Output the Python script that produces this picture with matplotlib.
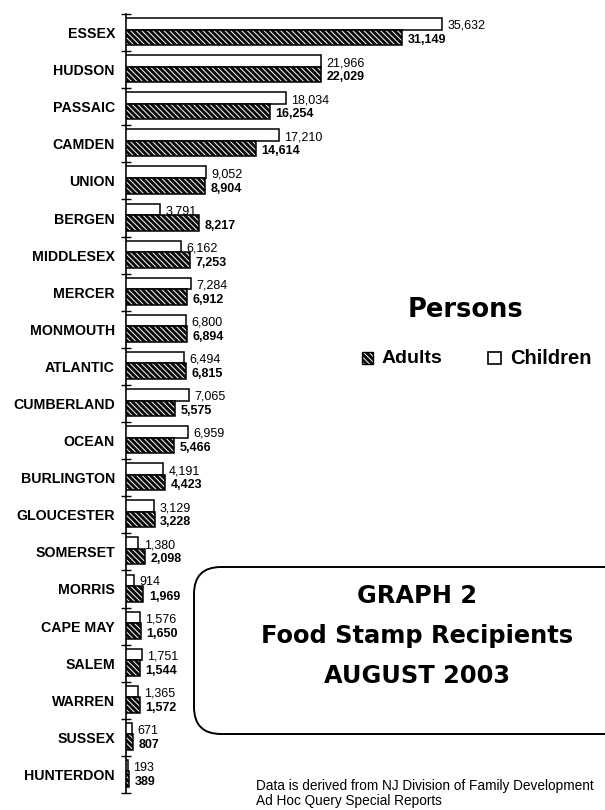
import matplotlib
matplotlib.use('Agg')
import matplotlib.pyplot as plt
from matplotlib.patches import FancyBboxPatch, Rectangle
import numpy as np

counties = ["ESSEX", "HUDSON", "PASSAIC", "CAMDEN", "UNION", "BERGEN", "MIDDLESEX",
            "MERCER", "MONMOUTH", "ATLANTIC", "CUMBERLAND", "OCEAN", "BURLINGTON",
            "GLOUCESTER", "SOMERSET", "MORRIS", "CAPE MAY", "SALEM", "WARREN",
            "SUSSEX", "HUNTERDON"]
children = [35632, 21966, 18034, 17210, 9052, 3791, 6162, 7284, 6800, 6494, 7065,
            6959, 4191, 3129, 1380, 914, 1576, 1751, 1365, 671, 193]
adults = [31149, 22029, 16254, 14614, 8904, 8217, 7253, 6912, 6894, 6815, 5575,
          5466, 4423, 3228, 2098, 1969, 1650, 1544, 1572, 807, 389]

title_lines = ["GRAPH 2", "Food Stamp Recipients", "AUGUST 2003"]
legend_title = "Persons"
legend_labels = ["Adults", "Children"]
source_lines = ["Data is derived from NJ Division of Family Development",
                "Ad Hoc Query Special Reports"]

plt.rcParams['hatch.linewidth'] = 0.7
HATCH = '\\' * 6
SANS = ['Liberation Sans', 'DejaVu Sans']
HEAVY = ['DejaVu Sans']

W, H = 605, 810
fig = plt.figure(figsize=(W / 100, H / 100), dpi=100)
fig.patch.set_facecolor('white')

# overlay axes in pixel coordinates (for title box, legend, source note)
ov = fig.add_axes([0, 0, 1, 1])
ov.set_xlim(0, W)
ov.set_ylim(H, 0)
ov.axis('off')
ov.patch.set_alpha(0)

# main bar axes
ax = fig.add_axes([126 / W, (H - 793) / H, (W - 126) / W, (793 - 14) / H])
ax.patch.set_alpha(0)
n = len(counties)
y = np.arange(n)
ch_off, ch_h = -0.235, 0.31
ad_off, ad_h = 0.13, 0.42

ax.barh(y + ch_off, children, height=ch_h, color='white', edgecolor='black',
        linewidth=1.1, zorder=3)
ax.barh(y + ad_off, adults, height=ad_h, color='#0a0a0a', edgecolor='white',
        linewidth=0, hatch=HATCH, zorder=3)
ax.barh(y + ad_off, adults, height=ad_h, fill=False, edgecolor='black',
        linewidth=1.1, zorder=4)

ax.set_xlim(0, 54014)
ax.set_ylim(n - 0.5, -0.5)

for i in range(n):
    ax.annotate(f"{children[i]:,}", xy=(children[i], y[i] + ch_off), xytext=(4, -1.5),
                textcoords='offset points', ha='left', va='center',
                fontsize=9, family=SANS, color='black')
    ax.annotate(f"{adults[i]:,}", xy=(adults[i], y[i] + ad_off), xytext=(4, -2),
                textcoords='offset points', ha='left', va='center',
                fontsize=9, fontweight='bold', family=SANS, color='black')

ax.set_yticks(y)
ax.set_yticklabels(counties, fontsize=10.2, fontweight='bold', family=SANS)
ax.set_yticks(np.arange(n + 1) - 0.5, minor=True)
ax.tick_params(axis='y', which='major', length=0, pad=8)
ax.tick_params(axis='y', which='minor', direction='inout', length=7, width=1.0)
ax.set_xticks([])
for s in ['top', 'right', 'bottom']:
    ax.spines[s].set_visible(False)
ax.spines['left'].set_linewidth(1.2)

# legend
ov.text(465, 310, legend_title, ha='center', va='center', fontsize=18.5,
        fontweight='bold', family=HEAVY, color='black')
ov.add_patch(Rectangle((362, 352), 11, 12, facecolor='#0a0a0a', edgecolor='white',
                       linewidth=0, hatch=HATCH, clip_on=False))
ov.add_patch(Rectangle((362, 352), 11, 12, fill=False, edgecolor='black',
                       linewidth=1.0, clip_on=False))
ov.text(382, 358.5, legend_labels[0], ha='left', va='center', fontsize=14,
        fontweight='bold', family=SANS)
ov.add_patch(Rectangle((488, 352), 13, 12, facecolor='white', edgecolor='black',
                       linewidth=1.2, clip_on=False))
ov.text(510, 358.5, legend_labels[1], ha='left', va='center', fontsize=14.5,
        fontweight='bold', family=SANS)

# title box
ov.add_patch(FancyBboxPatch((194, 567), 520, 167,
                            boxstyle='round,pad=0,rounding_size=27',
                            facecolor='white', edgecolor='black', linewidth=1.4,
                            clip_on=False))
for txt, yy in zip(title_lines, [596, 636, 676]):
    ov.text(417, yy, txt, ha='center', va='center', fontsize=17.4,
            fontweight='bold', family=HEAVY, color='black')

# source note
ov.text(256, 786, source_lines[0], ha='left', va='center', fontsize=9.8,
        family=SANS, clip_on=False)
ov.text(256, 801, source_lines[1], ha='left', va='center', fontsize=9.8,
        family=SANS, clip_on=False)

fig.savefig('out.png', dpi=100, facecolor='white')
